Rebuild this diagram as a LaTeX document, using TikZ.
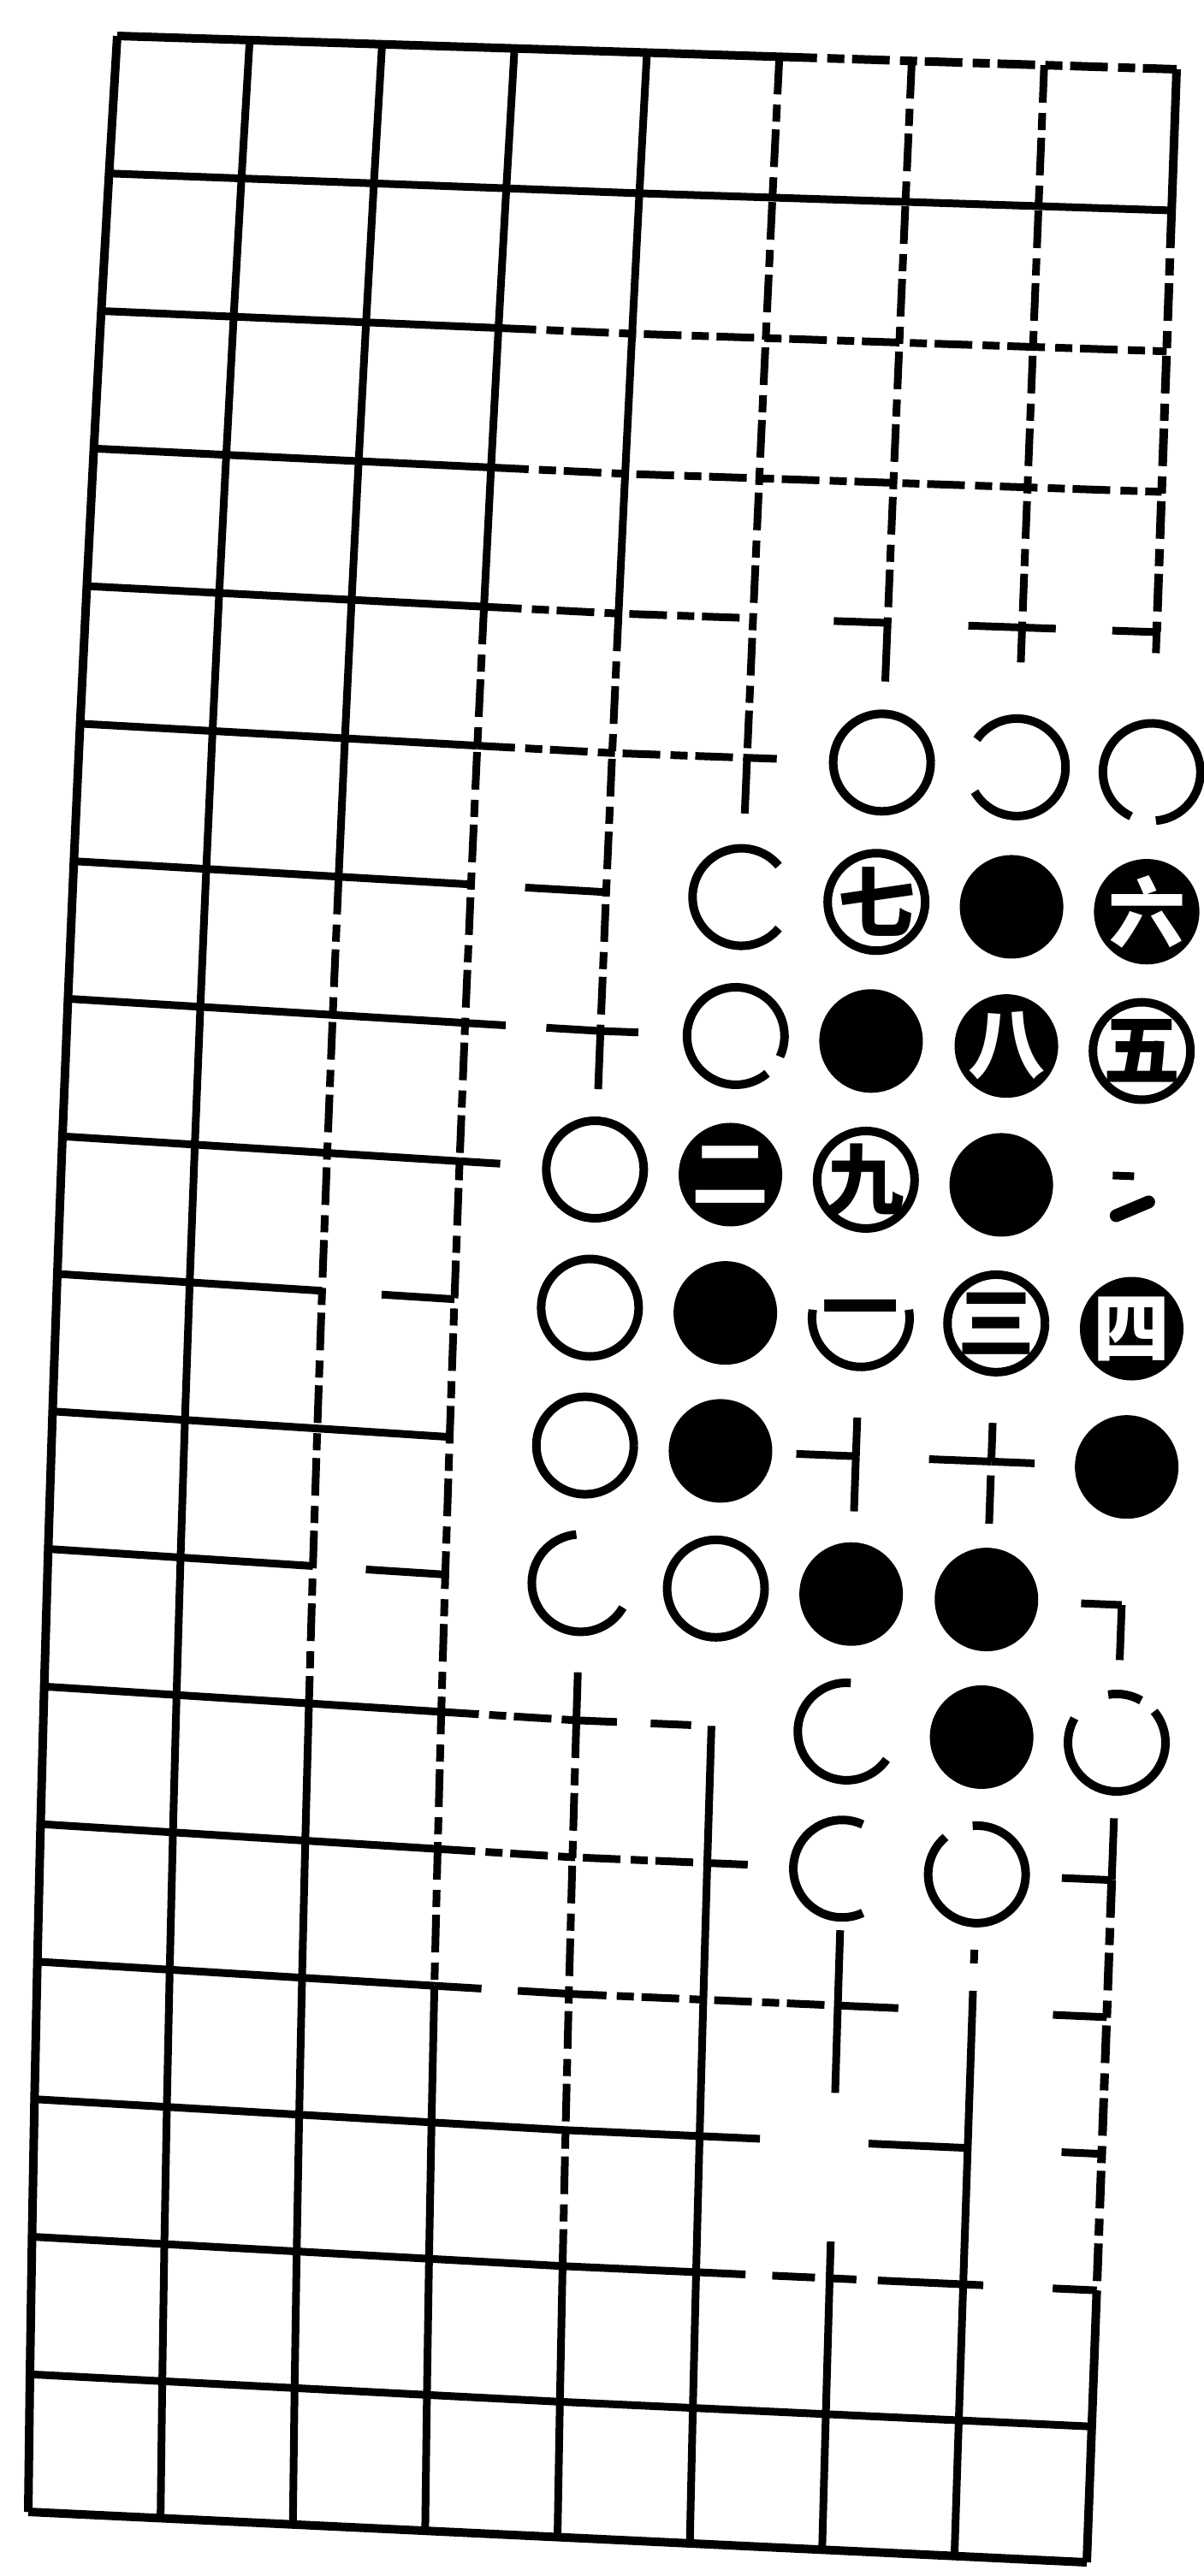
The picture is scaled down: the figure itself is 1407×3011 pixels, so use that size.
\documentclass[tikz,border=0pt]{standalone}
\usepackage{fontspec}
\usetikzlibrary{calc}
\newfontfamily\cjk{Noto Sans CJK SC}
% intersection (i,j): i = column 0..8, j = row 0..18, in pixels (y down)
\newcommand\gocoord[2]{%
  \pgfmathsetmacro\gu{#1/8}%
  \pgfmathsetmacro\gv{#2/18}%
  \pgfmathsetmacro\gx{(1-\gv)*(137+1238*\gu)+\gv*(33+1237*\gu)-72*\gv*(1-\gv)*min(1,1.6*(1-\gu))}%
  \pgfmathsetmacro\gy{(1-\gv)*(42+39*\gu)+\gv*(2936+59*\gu)+60*\gv*(1-\gv)*min(1,2*\gu)}%
}
\tikzset{
  gridline/.style={line width=9pt},
  edgeline/.style={line width=10pt},
  broken/.style={line width=9pt, dash pattern=on 44pt off 12pt on 20pt off 9pt},
  brokenedge/.style={line width=10pt, dash pattern=on 44pt off 12pt on 20pt off 9pt},
  wring/.style={line width=10pt},
  wstone/.style={circle, minimum size=112pt, inner sep=0pt, fill=white, text=black,
    font=\cjk\bfseries\fontsize{90pt}{90pt}\selectfont},
  bstone/.style={circle, minimum size=121pt, inner sep=0pt, fill=black, text=white,
    font=\cjk\bfseries\fontsize{90pt}{90pt}\selectfont},
}
\newcommand\gridH[4]{\draw[#1] (p#3-#2) \foreach \k in {#3,...,#4}{ -- (p\k-#2)};}
\newcommand\gridV[4]{\draw[#1] (p#2-#3) \foreach \k in {#3,...,#4}{ -- (p#2-\k)};}
\newcommand\armH[4]{\pgfmathtruncatemacro\nxt{#2+1}%
  \draw[gridline] ($(p#2-#1)!#3!(p\nxt-#1)$) -- ($(p#2-#1)!#4!(p\nxt-#1)$);}
\newcommand\armV[4]{\pgfmathtruncatemacro\nxt{#2+1}%
  \draw[gridline] ($(p#1-#2)!#3!(p#1-\nxt)$) -- ($(p#1-#2)!#4!(p#1-\nxt)$);}
\newcommand\bst[3]{\node[bstone] (s#1-#2) at (p#1-#2) {#3};}
\newcommand\wst[5]{\node[wstone] (s#1-#2) at (p#1-#2) {#5};
  \draw[wring] ([shift={(#3:57pt)}]p#1-#2) arc[start angle=#3, end angle=#4, radius=57pt];}
\begin{document}
\begin{tikzpicture}[x=1pt,y=-1pt]
\useasboundingbox (0,0) rectangle (1407,3011);
\foreach \i in {0,...,8}{\foreach \j in {0,...,18}{%
  \gocoord{\i}{\j}\coordinate (p\i-\j) at (\gx,\gy);}}
% ---- horizontal lines
\gridH{edgeline}{0}{0}{5} \gridH{brokenedge}{0}{5}{8}
\gridH{gridline}{1}{0}{8}
\gridH{gridline}{2}{0}{3} \gridH{broken}{2}{3}{8}
\gridH{gridline}{3}{0}{3} \gridH{broken}{3}{3}{8}
\gridH{gridline}{4}{0}{3} \gridH{broken}{4}{3}{5}
\gridH{gridline}{5}{0}{3} \gridH{broken}{5}{3}{5}
\gridH{gridline}{6}{0}{3}
\gridH{gridline}{7}{0}{3}
\gridH{gridline}{8}{0}{3}
\gridH{gridline}{9}{0}{2}
\gridH{gridline}{10}{0}{3}
\gridH{gridline}{11}{0}{2}
\gridH{gridline}{12}{0}{3} \gridH{broken}{12}{3}{4}
\gridH{gridline}{13}{0}{3} \gridH{broken}{13}{3}{5}
\gridH{gridline}{14}{0}{3} \gridH{broken}{14}{4}{6}
\gridH{gridline}{15}{0}{5}
\gridH{gridline}{16}{0}{5}
\gridH{gridline}{17}{0}{8}
\gridH{edgeline}{18}{0}{8}
% ---- vertical lines
\gridV{edgeline}{0}{0}{18}
\gridV{gridline}{1}{0}{18}
\gridV{gridline}{2}{0}{6} \gridV{broken}{2}{6}{12} \gridV{gridline}{2}{12}{18}
\gridV{gridline}{3}{0}{4} \gridV{broken}{3}{4}{14} \gridV{gridline}{3}{14}{18}
\gridV{gridline}{4}{0}{4} \gridV{broken}{4}{4}{7} \gridV{broken}{4}{12}{16} \gridV{gridline}{4}{16}{18}
\gridV{broken}{5}{0}{5} \gridV{gridline}{5}{12}{18}
\gridV{broken}{6}{0}{4} \gridV{gridline}{6}{16}{18}
\gridV{broken}{7}{0}{4} \gridV{gridline}{7}{14}{18}
\gridV{edgeline}{8}{0}{1} \gridV{brokenedge}{8}{1}{4} \gridV{brokenedge}{8}{13}{16} \gridV{edgeline}{8}{16}{18}
% ---- partial arms (horizontal: row, start column, from, to)
\armH{4}{5}{0.6}{1} \armH{4}{6}{0.6}{1} \armH{4}{7}{0}{0.25} \armH{4}{7}{0.67}{1}
\armH{5}{5}{0}{0.22}
\armH{6}{3}{0.4}{1}
\armH{7}{3}{0}{0.3} \armH{7}{3}{0.6}{1} \armH{7}{4}{0}{0.28}
\armH{8}{3}{0}{0.3}
\armH{9}{2}{0.45}{1}
\armH{10}{5}{0.56}{1} \armH{10}{6}{0.54}{1} \armH{10}{7}{0}{0.32}
\armH{11}{2}{0.4}{1} \armH{11}{7}{0.7}{1}
\armH{12}{4}{0}{0.3} \armH{12}{4}{0.55}{0.85}
\armH{13}{5}{0}{0.3} \armH{13}{7}{0.63}{1}
\armH{14}{3}{0}{0.35} \armH{14}{3}{0.62}{1} \armH{14}{6}{0}{0.45} \armH{14}{7}{0.6}{1}
\armH{15}{5}{0}{0.45} \armH{15}{6}{0.26}{1} \armH{15}{7}{0.7}{1}
\armH{16}{5}{0}{0.37} \armH{16}{5}{0.57}{0.89} \armH{16}{6}{0}{0.2} \armH{16}{6}{0.36}{1}
\armH{16}{7}{0}{0.15} \armH{16}{7}{0.67}{1}
% (vertical: column, start row, from, to)
\armV{4}{7}{0}{0.42} \armV{4}{11}{0.65}{1}
\armV{5}{5}{0}{0.4}
\armV{6}{4}{0}{0.42} \armV{6}{9}{0.72}{1} \armV{6}{10}{0}{0.4} \armV{6}{13}{0.45}{1}
\armV{6}{14}{0}{0.64} \armV{6}{15}{0.73}{1}
\armV{7}{4}{0}{0.25} \armV{7}{9}{0.72}{1} \armV{7}{10}{0.1}{0.45} \armV{7}{13}{0.55}{0.65} \armV{7}{13}{0.85}{1}
\armV{8}{4}{0}{0.15} \armV{8}{11}{0}{0.4} \armV{8}{12}{0.55}{1}
% ---- stones
\wst{6}{5}{0}{360}{}
\wst{7}{5}{-150}{145}{}
\wst{8}{5}{-85}{245}{}
\wst{5}{6}{40}{320}{}
\wst{6}{6}{0}{360}{七}
\bst{7}{6}{}
\bst{8}{6}{六}
\wst{5}{7}{-25}{310}{}
\bst{6}{7}{}
\bst{7}{7}{八}
\wst{8}{7}{0}{360}{五}
\wst{4}{8}{0}{360}{}
\bst{5}{8}{二}
\wst{6}{8}{0}{360}{九}
\bst{7}{8}{}
\wst{4}{9}{0}{360}{}
\bst{5}{9}{}
\wst{6}{9}{170}{370}{一}
\wst{7}{9}{0}{360}{三}
\bst{8}{9}{四}
\wst{4}{10}{0}{360}{}
\bst{5}{10}{}
\bst{8}{10}{}
\wst{4}{11}{95}{330}{}
\wst{5}{11}{0}{360}{}
\bst{6}{11}{}
\bst{7}{11}{}
\wst{6}{12}{85}{325}{}
\bst{7}{12}{}
\wst{8}{12}{150}{400}{}
\draw[wring] ([shift={(60:57pt)}]p8-12) arc[start angle=60, end angle=100, radius=57pt];
\wst{6}{13}{65}{295}{}
\wst{7}{13}{130}{455}{}
% ---- small mark at the right edge
\draw[line width=9pt] ($(p8-8)+(-28,-17)$) -- ($(p8-8)+(-3,-16)$);
\draw[line width=15pt, line cap=round] ($(p8-8)+(-24,30)$) -- ($(p8-8)+(14,14)$);
\end{tikzpicture}
\end{document}
